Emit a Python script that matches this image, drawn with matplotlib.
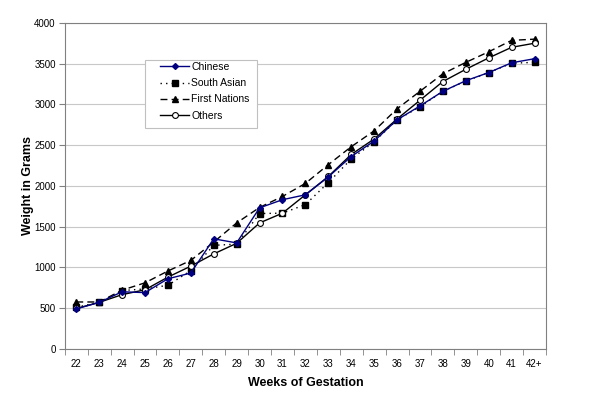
import matplotlib.pyplot as plt
from matplotlib.patches import Rectangle
from matplotlib.ticker import MultipleLocator, FixedLocator

plt.rcParams['font.family'] = ['Liberation Sans', 'DejaVu Sans']

weeks = ['22', '23', '24', '25', '26', '27', '28', '29', '30', '31', '32',
         '33', '34', '35', '36', '37', '38', '39', '40', '41', '42+']
chinese = [490, 570, 700, 690, 860, 930, 1350, 1300, 1730, 1830, 1890,
           2110, 2360, 2550, 2810, 2980, 3160, 3290, 3390, 3510, 3560]
south_asian = [510, 570, 715, 735, 780, 960, 1270, 1285, 1660, 1665, 1770,
               2040, 2330, 2540, 2810, 2970, 3160, 3285, 3390, 3505, 3515]
first_nations = [575, 575, 720, 810, 955, 1085, 1310, 1545, 1735, 1870, 2030,
                 2260, 2480, 2675, 2945, 3160, 3375, 3515, 3645, 3785, 3800]
others = [495, 570, 665, 725, 880, 1015, 1165, 1295, 1545, 1665, 1890,
          2115, 2385, 2575, 2820, 3050, 3280, 3430, 3570, 3700, 3750]

fig = plt.figure(figsize=(6.0, 4.08), dpi=100)
ax = fig.add_axes([0.108, 0.145, 0.802, 0.799])

x = range(len(weeks))
ax.plot(x, chinese, color='#000080', lw=1, marker='D', ms=3,
        mfc='#000080', mec='#000080', label='Chinese', zorder=5)
ax.plot(x, south_asian, color='black', lw=1, ls=(0, (1, 3)), marker='s',
        ms=4, mfc='black', label='South Asian', zorder=4)
ax.plot(x, first_nations, color='black', lw=1, ls=(0, (5, 3)), marker='^',
        ms=4.5, mfc='black', label='First Nations', zorder=3)
ax.plot(x, others, color='black', lw=1, marker='o', ms=4.2, mfc='white',
        mec='black', mew=0.8, label='Others', zorder=4)

ax.set_xlim(-0.5, len(weeks) - 0.5)
ax.set_ylim(0, 4000)
ax.yaxis.set_major_locator(MultipleLocator(500))
ax.set_xticks(list(x))
ax.set_xticklabels(weeks, fontsize=7)
ax.xaxis.set_minor_locator(FixedLocator([i - 0.5 for i in range(len(weeks) + 1)]))
ax.tick_params(axis='x', which='major', length=0, pad=7)
ax.tick_params(axis='x', which='minor', length=4, color='#808080')
ax.tick_params(axis='y', length=4, color='#808080', labelsize=7, pad=2.5)

ax.grid(axis='y', color='#c8c8c8', lw=0.8)
ax.set_axisbelow(True)
for s in ax.spines.values():
    s.set_color('#808080')

ax.set_ylabel('Weight in Grams', fontsize=9, fontweight='bold')
ax.yaxis.set_label_coords(-0.064, 0.5)
ax.set_xlabel('Weeks of Gestation', fontsize=9, fontweight='bold', labelpad=6)

# legend box drawn separately so its padding matches the original
fig.patches.append(Rectangle((145 / 600, 1 - 128 / 408), 112 / 600, 68 / 408,
                             transform=fig.transFigure, facecolor='white',
                             edgecolor='#c0c0c0', lw=0.8, zorder=4))
handles, labels = ax.get_legend_handles_labels()
leg = fig.legend(handles, labels, loc='upper left',
                 bbox_to_anchor=(160 / 600, 1 - 62 / 408), fontsize=7.5,
                 frameon=False, handlelength=2.8, labelspacing=0.6,
                 borderpad=0, handletextpad=0.2, borderaxespad=0)
leg.set_zorder(5)

fig.savefig('out.png', dpi=100)
